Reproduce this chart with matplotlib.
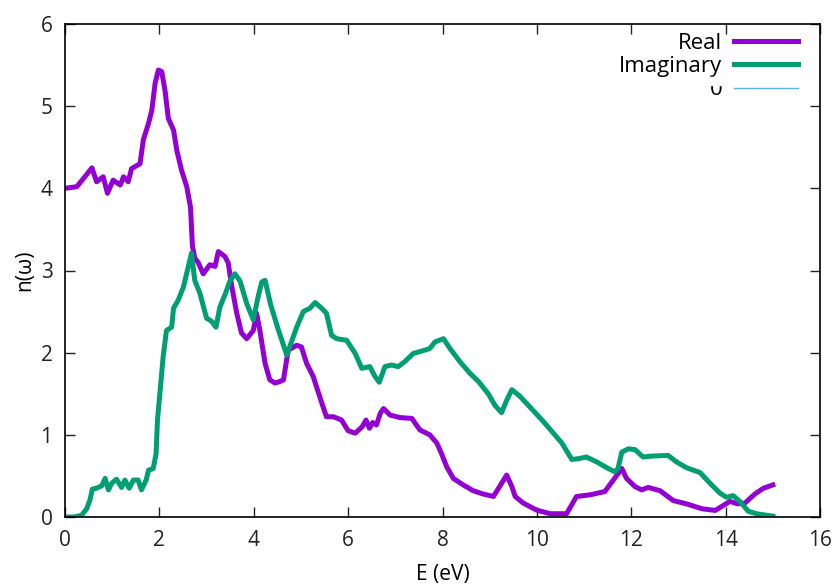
import matplotlib
matplotlib.use('Agg')
import matplotlib.pyplot as plt
import numpy as np

# dane: E (eV) i n(omega)
e_real = [0, 0.25, 0.42, 0.57, 0.67, 0.81, 0.90, 1.02, 1.17, 1.24, 1.34, 1.41, 1.59, 1.66,
          1.77, 1.84, 1.91, 1.98, 2.05, 2.12, 2.19, 2.30, 2.37, 2.47, 2.58, 2.66, 2.70, 2.75,
          2.82, 2.93, 3.07, 3.18, 3.25, 3.39, 3.46, 3.53, 3.64, 3.74, 3.85, 3.99, 4.06, 4.13,
          4.24, 4.34, 4.45, 4.56, 4.63, 4.73, 4.91, 5.01, 5.12, 5.26, 5.40, 5.54, 5.69, 5.86,
          6.0, 6.15, 6.3, 6.38, 6.45, 6.52, 6.6, 6.68, 6.75, 6.89, 7.10, 7.35, 7.52, 7.73,
          7.88, 7.98, 8.09, 8.23, 8.44, 8.65, 8.86, 9.08, 9.22, 9.36, 9.47, 9.54, 9.71, 9.99,
          10.28, 10.63, 10.84, 11.13, 11.44, 11.62, 11.80, 11.90, 12.08, 12.22, 12.36, 12.61,
          12.89, 13.17, 13.50, 13.78, 13.95, 14.09, 14.25, 14.41, 14.62, 14.80, 15.0]
n_real = [4.0, 4.02, 4.14, 4.25, 4.08, 4.14, 3.94, 4.10, 4.04, 4.14, 4.08, 4.24, 4.30, 4.59,
          4.79, 4.95, 5.28, 5.44, 5.42, 5.19, 4.85, 4.71, 4.46, 4.22, 4.02, 3.77, 3.30, 3.15,
          3.10, 2.96, 3.07, 3.05, 3.23, 3.17, 3.09, 2.82, 2.48, 2.24, 2.17, 2.27, 2.48, 2.27,
          1.87, 1.67, 1.63, 1.65, 1.67, 2.03, 2.09, 2.07, 1.87, 1.71, 1.46, 1.22, 1.22, 1.18,
          1.05, 1.02, 1.10, 1.18, 1.08, 1.15, 1.12, 1.26, 1.32, 1.24, 1.21, 1.20, 1.06, 1.00,
          0.90, 0.77, 0.61, 0.47, 0.39, 0.32, 0.28, 0.25, 0.38, 0.51, 0.37, 0.25, 0.17, 0.085,
          0.04, 0.04, 0.25, 0.27, 0.31, 0.45, 0.59, 0.47, 0.37, 0.33, 0.36, 0.32,
          0.20, 0.16, 0.10, 0.08, 0.14, 0.19, 0.16, 0.17, 0.28, 0.35, 0.39]

e_imag = [0, 0.18, 0.35, 0.46, 0.53, 0.58, 0.67, 0.78, 0.85, 0.92, 0.99, 1.09, 1.20, 1.27,
          1.36, 1.45, 1.55, 1.62, 1.72, 1.77, 1.87, 1.93, 1.96, 2.01, 2.08, 2.15, 2.26, 2.30,
          2.40, 2.51, 2.61, 2.68, 2.75, 2.86, 3.00, 3.11, 3.20, 3.28, 3.40, 3.50, 3.60, 3.71,
          3.85, 3.99, 4.10, 4.17, 4.24, 4.36, 4.52, 4.70, 4.91, 5.05, 5.19, 5.30, 5.44, 5.54,
          5.65, 5.76, 5.97, 6.15, 6.29, 6.46, 6.57, 6.66, 6.78, 6.92, 7.06, 7.20, 7.38, 7.56,
          7.73, 7.84, 8.02, 8.09, 8.16, 8.37, 8.58, 8.76, 8.97, 9.11, 9.25, 9.36, 9.47, 9.64,
          9.85, 10.14, 10.35, 10.53, 10.74, 10.88, 11.05, 11.27, 11.48, 11.65, 11.72, 11.80,
          11.94, 12.08, 12.25, 12.40, 12.78, 12.96, 13.17, 13.46, 13.67, 13.88, 14.02, 14.16,
          14.30, 14.48, 14.65, 15.0]
n_imag = [0, 0.0, 0.02, 0.10, 0.21, 0.34, 0.35, 0.38, 0.47, 0.33, 0.41, 0.46, 0.36, 0.45,
          0.35, 0.45, 0.45, 0.33, 0.45, 0.57, 0.59, 0.77, 1.18, 1.50, 1.95, 2.27, 2.31, 2.54,
          2.64, 2.80, 3.04, 3.21, 2.88, 2.72, 2.42, 2.38, 2.31, 2.55, 2.72, 2.88, 2.96, 2.87,
          2.60, 2.40, 2.70, 2.86, 2.88, 2.58, 2.28, 1.97, 2.31, 2.50, 2.54, 2.61, 2.54, 2.48,
          2.21, 2.17, 2.15, 1.99, 1.81, 1.83, 1.71, 1.64, 1.83, 1.85, 1.83, 1.89, 1.99, 2.02,
          2.05, 2.13, 2.17, 2.11, 2.05, 1.89, 1.75, 1.65, 1.50, 1.36, 1.27, 1.42, 1.55, 1.47,
          1.34, 1.16, 1.02, 0.90, 0.70, 0.71, 0.73, 0.67, 0.60, 0.55, 0.59, 0.79,
          0.83, 0.82, 0.73, 0.74, 0.75, 0.67, 0.60, 0.54, 0.41, 0.29, 0.24, 0.26,
          0.19, 0.07, 0.04, 0.01]

x_ticks = [0, 2, 4, 6, 8, 10, 12, 14, 16]
y_ticks = [0, 1, 2, 3, 4, 5, 6]

plt.rcParams['font.family'] = ['Open Sans', 'DejaVu Sans']

fig = plt.figure(figsize=(8.36, 5.85), dpi=100)
ax = fig.add_axes([65 / 836, 68 / 585, 755 / 836, 493 / 585])

ax.plot(e_real, n_real, color='#9400d3', lw=3.6, label='Real', zorder=3)
ax.plot(e_imag, n_imag, color='#009e73', lw=3.6, label='Imaginary', zorder=3)
ax.plot(e_real, np.zeros(len(e_real)), color='#56b4e9', lw=1.0, label='0', zorder=1)

ax.set_xlim(0, 16)
ax.set_ylim(0, 6)
ax.set_xticks(x_ticks)
ax.set_yticks(y_ticks)
ax.tick_params(direction='in', length=7, width=1, labelsize=15, top=True, right=True,
               colors='#222222')
ax.tick_params(axis='x', pad=9)
ax.tick_params(axis='y', pad=9)
for s in ax.spines.values():
    s.set_linewidth(1.2)
    s.set_zorder(4)

ax.set_xlabel('E (eV)', fontsize=15, labelpad=10)
ax.set_ylabel('n(ω)', fontsize=15, labelpad=4)

leg = ax.legend(loc='upper right', bbox_to_anchor=(798 / 836, 552 / 585),
                bbox_transform=fig.transFigure, frameon=False, markerfirst=False,
                fontsize=16, handlelength=2.9, handletextpad=0.5, labelspacing=0.1,
                borderpad=0, borderaxespad=0)

# trzeci wpis legendy jest w oryginale przyciety od gory
fig.canvas.draw()
t = leg.get_texts()[2]
bb = t.get_window_extent()
em = 16 * 100 / 72.0
y_cut = bb.y0 + 0.27 * em + 0.62 * 0.714 * em
fig.patches.append(plt.Rectangle((bb.x0 - 2, y_cut), bb.width + 4, bb.y1 - y_cut + 2,
                                 transform=None, color='white', zorder=10))

fig.savefig('out.png', dpi=100)
